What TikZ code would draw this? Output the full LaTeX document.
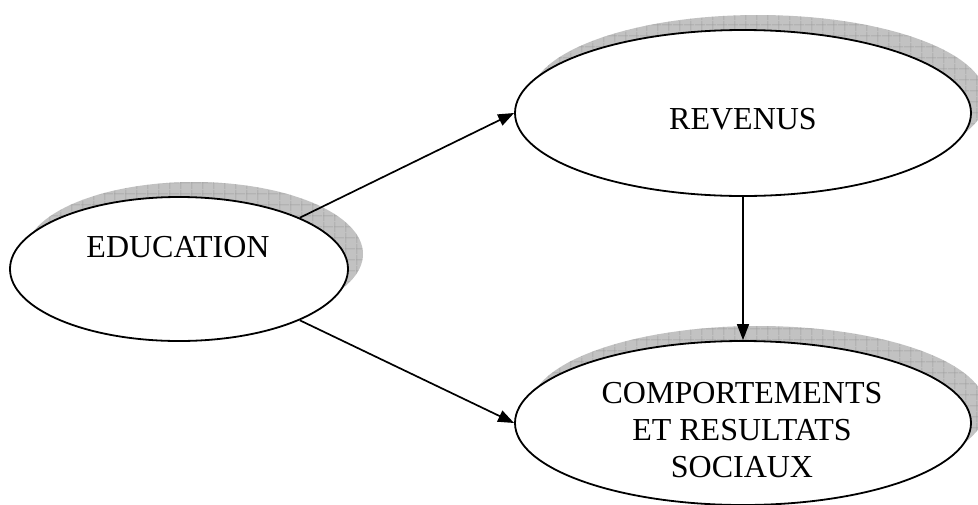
\documentclass[tikz,border=0pt]{standalone}
\usepackage{fontspec}
\setmainfont{Liberation Serif}
\usetikzlibrary{arrows.meta,patterns.meta,calc,shapes.geometric}
\tikzset{
  bubble/.style={draw=black, line width=1.8pt, ellipse, fill=white, inner sep=0pt},
  shadowfill/.style={fill=black!24},
  shadowgrid/.style={pattern={Lines[angle=0,distance=10.5pt,line width=0.5pt]}, pattern color=black!40},
  shadowgridv/.style={pattern={Lines[angle=90,distance=10.5pt,line width=0.5pt]}, pattern color=black!40},
  lbl/.style={font=\fontsize{32}{37}\selectfont, inner sep=0pt, anchor=base, align=center},
  link/.style={line width=1.7pt, -{Triangle[length=16pt,width=12pt]}}
}
\begin{document}
\begin{tikzpicture}[x=1pt,y=-1pt]
\useasboundingbox (0,0) rectangle (978,504);
% shadows
\foreach \cx/\cy/\rx/\ry in {179/269/169/72, 743/113/228/83, 743/423/228/82}{
  \path[shadowfill] (\cx+15,\cy-15) ellipse [x radius=\rx, y radius=\ry];
  \path[shadowgrid] (\cx+15,\cy-15) ellipse [x radius=\rx, y radius=\ry];
  \path[shadowgridv] (\cx+15,\cy-15) ellipse [x radius=\rx, y radius=\ry];
}
% ellipses
\node[bubble, minimum width=338pt, minimum height=144pt] (edu) at (179,269) {};
\node[bubble, minimum width=456pt, minimum height=166pt] (rev) at (743,113) {};
\node[bubble, minimum width=456pt, minimum height=164pt] (comp) at (743,423) {};
% labels
\node[lbl] (tedu) at (178,257) {EDUCATION};
\node[lbl] (trev) at (743,129) {REVENUS};
\node[lbl] (tcomp) at (742,477) {COMPORTEMENTS\\ET RESULTATS\\SOCIAUX};
% connectors
\draw[link] (edu.23) -- (rev.west);
\draw[link] (edu.-23) -- (comp.west);
\draw[link] (rev.south) -- (comp.north);
\end{tikzpicture}
\end{document}
